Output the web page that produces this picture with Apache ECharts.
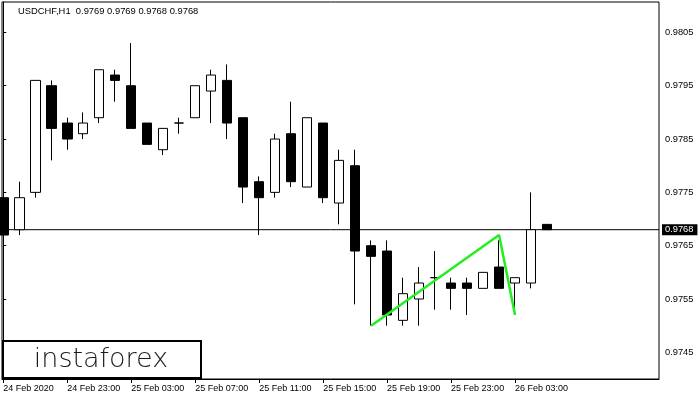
<!DOCTYPE html>
<html><head><meta charset="utf-8">
<script src="https://cdn.jsdelivr.net/npm/echarts@6/dist/echarts.min.js"></script>
<style>html,body{margin:0;padding:0;background:#fff}#c{width:700px;height:400px}</style>
</head><body><div id="c"></div>
<script>
const symbolName = 'USDCHF,H1';
// hourly bar slot index, starting 24 Feb 2020 19:00
const barIndex = [0,1,2,3,4,5,6,7,8,9,10,11,12,13,14,15,16,17,18,19,20,21,22,23,24,25,26,27,28,29,30,31,32,33,34];
const opens  = [0.9774,0.9768,0.9775,0.9795,0.9788,0.9786,0.9789,0.9797,0.9795,0.9788,0.9783,0.9788,0.9789,0.9794,0.9796,0.9789,0.9777,0.9775,0.9786,0.9776,0.9788,0.9773,0.9780,0.9765,0.9764,0.9751,0.9755,0.9759,0.9758,0.9758,0.9757,0.9761,0.9758,0.9758,0.9769];
const closes = [0.9767,0.9774,0.9796,0.9787,0.9785,0.9788,0.9798,0.9796,0.9787,0.9784,0.9787,0.9788,0.9795,0.9797,0.9788,0.9776,0.9774,0.9785,0.9777,0.9789,0.9774,0.9781,0.9764,0.9763,0.9752,0.9756,0.9758,0.9759,0.9757,0.9757,0.9760,0.9757,0.9759,0.9768,0.9768];
const lows   = [0.9767,0.9767,0.9774,0.9781,0.9783,0.9785,0.9788,0.9792,0.9787,0.9784,0.9782,0.9786,0.9789,0.9788,0.9785,0.9773,0.9767,0.9774,0.9776,0.9776,0.9773,0.9769,0.9754,0.9750,0.9750,0.9750,0.9750,0.9753,0.9753,0.9752,0.9757,0.9757,0.9753,0.9757,0.9768];
const highs  = [0.9779,0.9777,0.9796,0.9796,0.9789,0.9790,0.9798,0.9798,0.9803,0.9788,0.9787,0.9789,0.9795,0.9798,0.9799,0.9789,0.9778,0.9786,0.9792,0.9789,0.9788,0.9783,0.9783,0.9766,0.9766,0.9759,0.9761,0.9764,0.9759,0.9759,0.9760,0.9766,0.9759,0.9775,0.9769];
const patternX = [23, 31, 32];
const patternY = [0.9750, 0.9767, 0.9752];
const xTickIndex  = [0,4,8,12,16,20,24,28,32];
const xTickLabels = ['24 Feb 2020','24 Feb 23:00','25 Feb 03:00','25 Feb 07:00','25 Feb 11:00','25 Feb 15:00','25 Feb 19:00','25 Feb 23:00','26 Feb 03:00'];
const yTickValues = [0.9745,0.9755,0.9765,0.9775,0.9785,0.9795,0.9805];
const currentPrice = 0.9768;
const logoText = 'instaforex';

const X_MIN = -0.08, X_MAX = 41;
const FONT = '"Liberation Sans", Arial, sans-serif';
const candleData = barIndex.map((x, i) => [x, opens[i], closes[i], lows[i], highs[i]]);
const last = candleData.length - 1;
const titleText = symbolName + '  ' + [opens[last], highs[last], lows[last], closes[last]].map(v => v.toFixed(4)).join(' ');

const chart = echarts.init(document.getElementById('c'), null, {renderer: 'canvas'});
chart.setOption({
  animation: false,
  backgroundColor: '#fff',
  grid: {left: 2, right: 41, top: 2, bottom: 21, show: true, borderColor: '#000', borderWidth: 1, backgroundColor: 'transparent'},
  xAxis: {
    type: 'value', min: X_MIN, max: X_MAX,
    axisLine: {show: true, lineStyle: {color: '#000', width: 1}},
    splitLine: {show: false},
    axisTick: {show: true, length: 4, lineStyle: {color: '#000'}, customValues: xTickIndex},
    axisLabel: {
      customValues: xTickIndex, color: '#000', fontSize: 9, fontFamily: FONT, align: 'left', margin: 5,
      formatter: function (v) { const k = xTickIndex.indexOf(Math.round(v)); return k >= 0 ? xTickLabels[k] : ''; }
    }
  },
  yAxis: {
    type: 'value', position: 'right', min: 0.9740, max: 0.98107, scale: true,
    axisLine: {show: true, lineStyle: {color: '#000', width: 1}},
    splitLine: {show: false},
    axisTick: {show: true, length: 3, lineStyle: {color: '#000'}, customValues: yTickValues},
    axisLabel: {customValues: yTickValues, color: '#000', fontSize: 9.3, fontFamily: FONT, margin: 6,
      formatter: v => v.toFixed(4)}
  },
  series: [
    {
      type: 'line',
      data: [[X_MIN, currentPrice], [X_MAX, currentPrice]],
      symbol: 'none', silent: true, z: 1,
      lineStyle: {color: '#000', width: 1},
      endLabel: {show: true, formatter: currentPrice.toFixed(4), color: '#fff', backgroundColor: '#000',
        fontSize: 9.3, fontFamily: FONT, padding: [1, 4, 1, 3], distance: 3}
    },
    {
      type: 'candlestick',
      data: candleData,
      barWidth: 10,
      clip: true, z: 2,
      itemStyle: {color: '#fff', color0: '#000', borderColor: '#000', borderColor0: '#000', borderColorDoji: '#000', borderWidth: 1}
    },
    {
      type: 'line',
      data: patternX.map((x, i) => [x, patternY[i]]),
      symbol: 'none',
      lineStyle: {color: '#22ee22', width: 2.5},
      z: 5
    }
  ],
  graphic: [
    {type: 'text', x: 18, y: 11, z: 100,
      style: {text: titleText, fill: '#000', fontSize: 9.4, fontFamily: FONT, verticalAlign: 'middle', align: 'left'}},
    {type: 'rect', z: 100, shape: {x: 3, y: 341, width: 198, height: 37},
      style: {fill: '#fff', stroke: '#000', lineWidth: 2}},
    {type: 'text', x: 101, y: 360, z: 101,
      style: {text: logoText, fill: '#1a1a1a', fontSize: 27, fontWeight: 200, fontFamily: '"DejaVu Sans", sans-serif', align: 'center', verticalAlign: 'middle'}}
  ]
});
</script>
</body></html>
